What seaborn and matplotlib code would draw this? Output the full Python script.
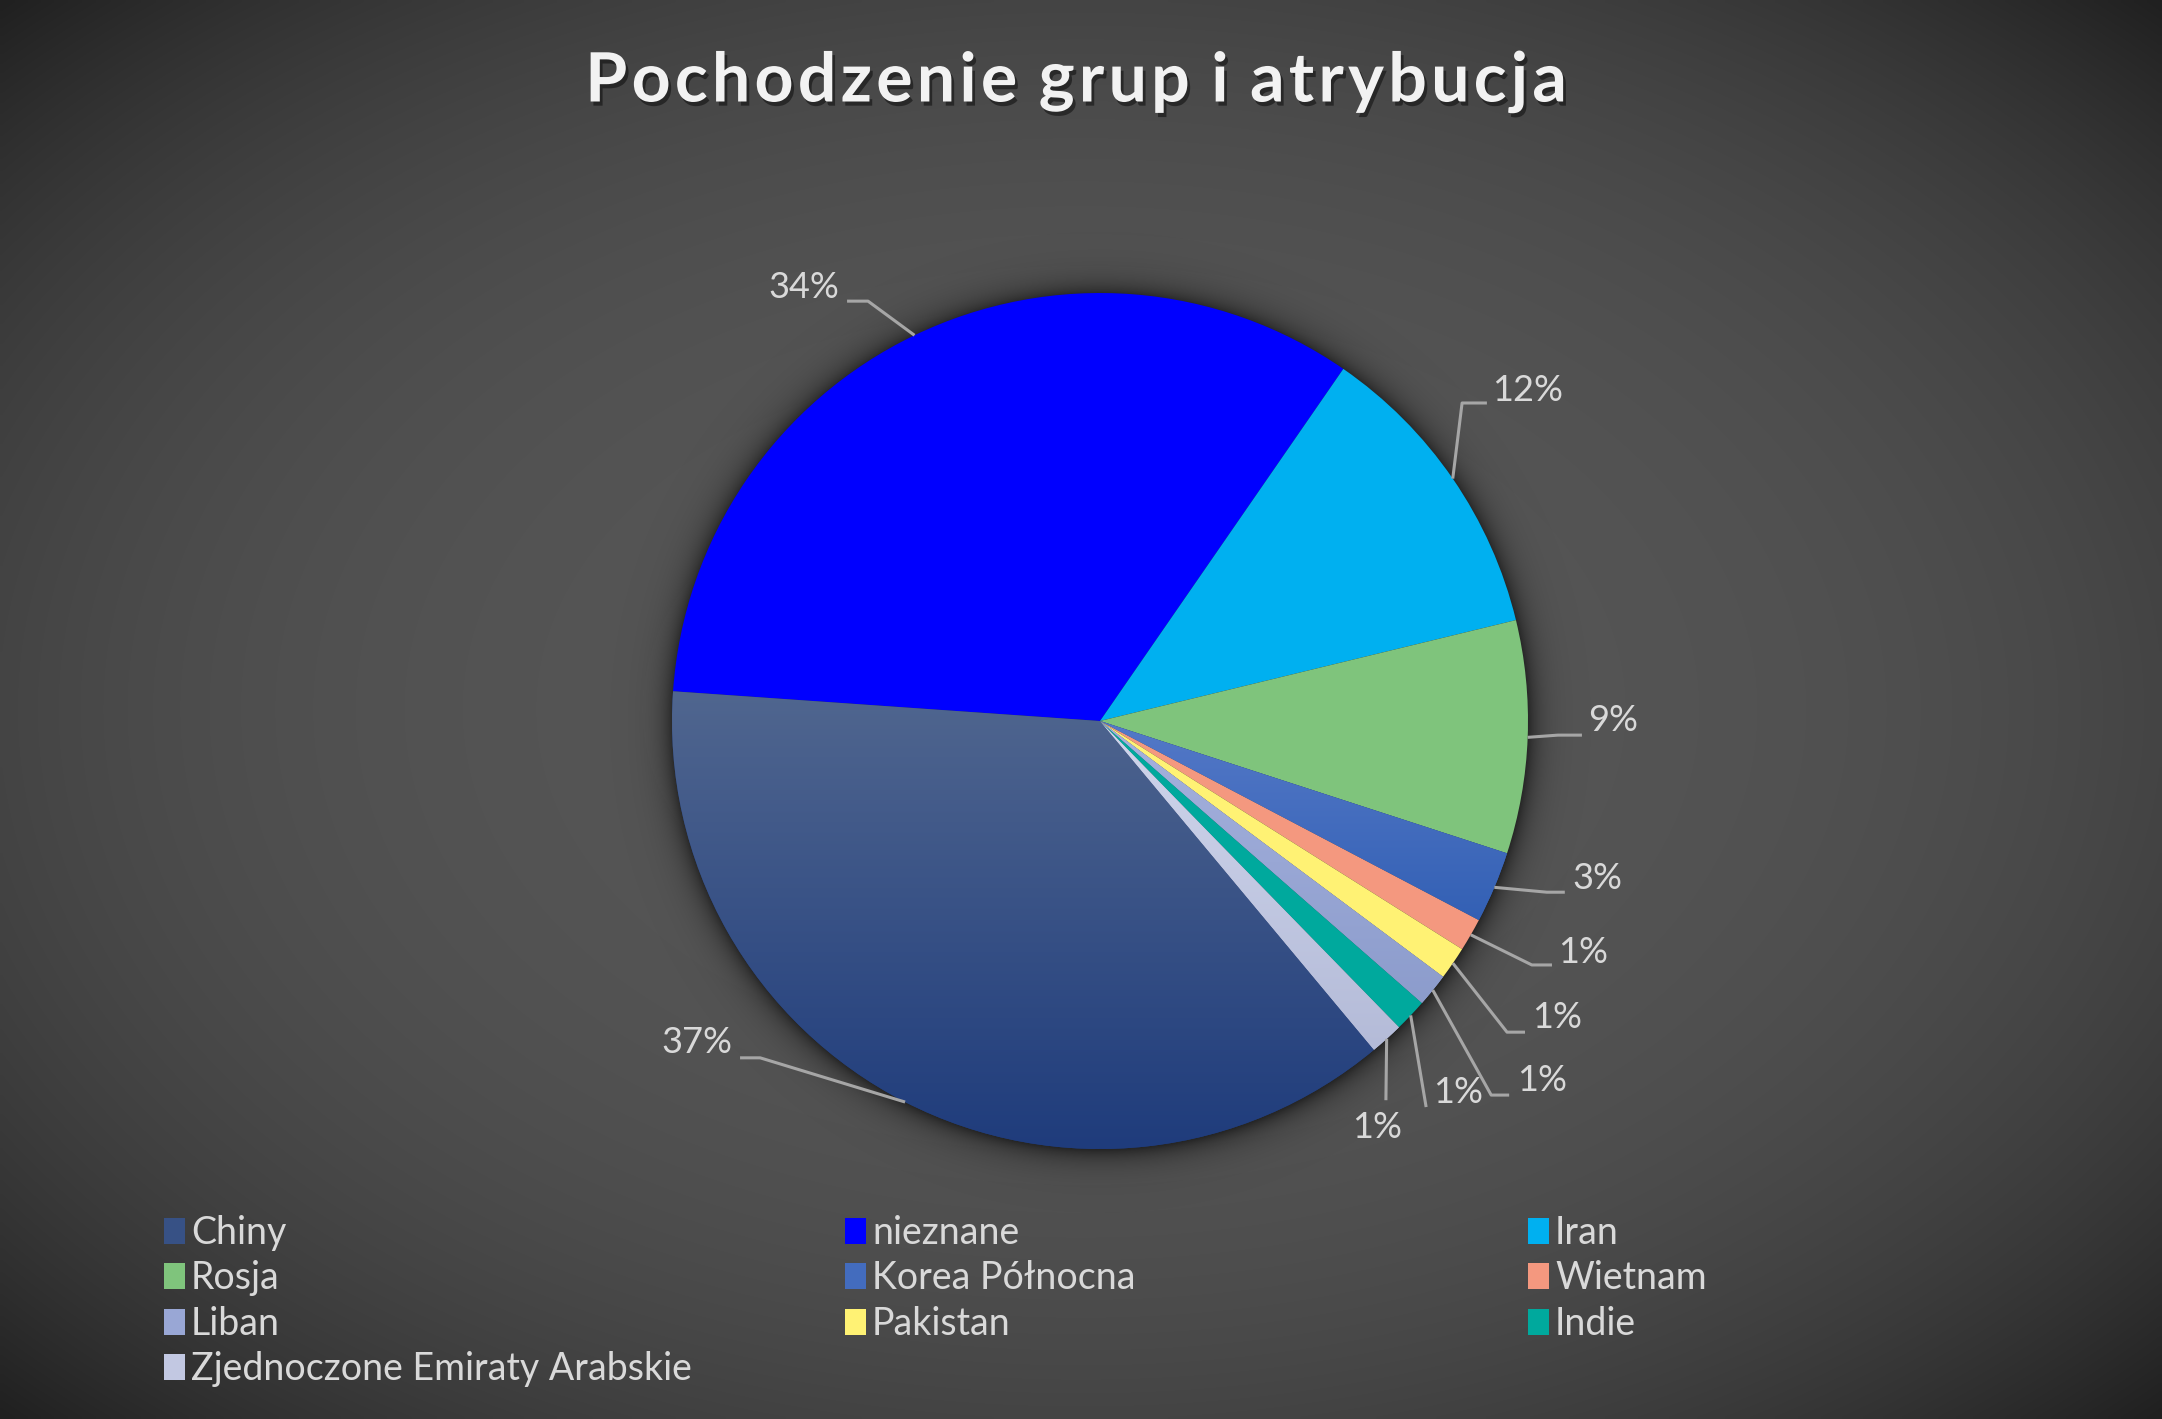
import numpy as np
import matplotlib
matplotlib.use('Agg')
import matplotlib.pyplot as plt
import matplotlib.patheffects as pe
from matplotlib.patches import Patch
import seaborn as sns

# slices in the order they run round the pie (clockwise, starting with Chiny)
countries = ['Chiny', 'nieznane', 'Iran', 'Rosja', 'Korea Północna', 'Wietnam',
             'Pakistan', 'Liban', 'Indie', 'Zjednoczone Emiraty Arabskie']
shares = [37.2, 33.55, 11.6, 8.8, 2.7, 1.25, 1.25, 1.25, 1.25, 1.25]
legend_order = ['Chiny', 'nieznane', 'Iran', 'Rosja', 'Korea Północna', 'Wietnam',
                'Liban', 'Pakistan', 'Indie', 'Zjednoczone Emiraty Arabskie']
title = 'Pochodzenie grup i atrybucja'

# (top, bottom) colour of each slice's vertical gradient
fills = {
    'Chiny': ('#50668f', '#1f3c7c'),
    'nieznane': ('#0000ff', '#0000ff'),
    'Iran': ('#00b0f0', '#00b0f0'),
    'Rosja': ('#7fc47c', '#7fc47c'),
    'Korea Północna': ('#5479c8', '#3360b4'),
    'Wietnam': ('#f4987f', '#f4987f'),
    'Pakistan': ('#fff274', '#fff274'),
    'Liban': ('#a6b2de', '#8c9ccc'),
    'Indie': ('#00a99d', '#00a99d'),
    'Zjednoczone Emiraty Arabskie': ('#d0d6ec', '#b4bbd8'),
}

# label layout in pie units (radius 1): text centre, elbow, end of the flat stub
label_pos = {
    'Chiny': ((-0.942, -0.752), (-0.794, -0.787), (-0.841, -0.787)),
    'nieznane': ((-0.692, 1.014), (-0.542, 0.981), (-0.591, 0.981)),
    'Iran': ((0.998, 0.773), (0.846, 0.743), (0.904, 0.743)),
    'Rosja': ((1.199, 0.002), (1.070, -0.033), (1.126, -0.033)),
    'Korea Północna': ((1.161, -0.367), (1.044, -0.400), (1.086, -0.400)),
    'Wietnam': ((1.129, -0.540), (1.009, -0.570), (1.056, -0.570)),
    'Pakistan': ((1.068, -0.692), (0.951, -0.727), (0.993, -0.727)),
    'Liban': ((1.033, -0.839), (0.914, -0.874), (0.956, -0.874)),
    'Indie': ((0.836, -0.867), (0.762, -0.902), (0.762, -0.902)),
    'Zjednoczone Emiraty Arabskie': ((0.647, -0.949), (0.668, -0.886), (0.668, -0.886)),
}

sns.set_theme(style='dark')
plt.rcParams['font.family'] = ['Lato', 'DejaVu Sans']

W, H = 2162, 1419
fig = plt.figure(figsize=(W / 100, H / 100), dpi=100)

# radial background gradient
bg = fig.add_axes([0, 0, 1, 1], zorder=0)
yy, xx = np.mgrid[0:1:300j, 0:1:460j]
d = np.sqrt(((xx - 0.5) / 0.5) ** 2 + ((yy - 0.5) / 0.5) ** 2) / np.sqrt(2)
grey = (86 - 54 * d ** 3.2) / 255.0
bg.imshow(np.dstack([grey, grey, grey]), extent=[0, 1, 0, 1], aspect='auto',
          interpolation='bilinear')
bg.axis('off')

ax = fig.add_axes([0, 0, 1, 1], zorder=1)
ax.patch.set_alpha(0)

cx, cy, R = 1100, 721, 428.0
xlim = (-cx / R, (W - cx) / R)
ylim = (-(H - cy) / R, cy / R)

# soft shadow round the pie
sy, sx = np.mgrid[-1.3:1.3:520j, -1.3:1.3:520j]
r = np.hypot(sx, sy + 0.004)
alpha = np.where(r > 1, 0.55 * np.exp(-(r - 1) / 0.03), 0.55)
shadow = np.zeros(r.shape + (4,))
shadow[..., 3] = alpha
ax.imshow(shadow, extent=[-1.3, 1.3, -1.3, 1.3], origin='lower', zorder=1,
          interpolation='bilinear')

colors = [fills[c][1] for c in countries]
wedges, _ = ax.pie(shares, colors=colors, startangle=-50.2, counterclock=False,
                   radius=1, wedgeprops=dict(linewidth=0, zorder=2))

grad = np.linspace(0, 1, 256).reshape(-1, 1)
for w, c in zip(wedges, countries):
    top, bottom = fills[c]
    if top == bottom:
        continue
    cmap = sns.blend_palette([top, bottom], as_cmap=True)
    ext = w.get_path().get_extents()
    im = ax.imshow(grad, cmap=cmap, extent=[ext.x0, ext.x1, ext.y0, ext.y1],
                   origin='upper', aspect='auto', zorder=3)
    im.set_clip_path(w)

total = sum(shares)
for w, c, v in zip(wedges, countries, shares):
    mid = np.deg2rad((w.theta1 + w.theta2) / 2)
    anchor = (np.cos(mid), np.sin(mid))
    txt, elbow, stub = label_pos[c]
    ax.plot([anchor[0], elbow[0], stub[0]], [anchor[1], elbow[1], stub[1]],
            color='#a6a6a6', lw=2.2, solid_capstyle='butt', zorder=4)
    ax.text(txt[0], txt[1], '{:.0f}%'.format(v / total * 100), ha='center',
            va='center', fontsize=26, color='#d9d9d9', zorder=5)

ax.set_xlim(*xlim)
ax.set_ylim(*ylim)
ax.set_aspect('auto')
ax.axis('off')

# title with extra letter spacing, one character at a time
renderer = fig.canvas.get_renderer()
tkw = dict(fontsize=49, fontweight='bold', color='#f2f2f2', va='center', ha='left',
           path_effects=[pe.withSimplePatchShadow(offset=(2, -3), shadow_rgbFace='black', alpha=0.45)])
spacing = 4.3
widths = []
for ch in title:
    t = fig.text(0, 0, ch if ch != ' ' else 'i', **tkw)
    widths.append(t.get_window_extent(renderer).width * (0.75 if ch == ' ' else 1.0))
    t.remove()
full = sum(widths) + spacing * (len(title) - 1)
x = 1076 - full / 2
for ch, wd in zip(title, widths):
    if ch != ' ':
        fig.text(x / W, 1 - 82 / H, ch, **tkw)
    x += wd + spacing

# legend, three columns filled row by row
legend_cols = [legend_order[0::3], legend_order[1::3], legend_order[2::3]]
col_x = [164 / W, 845 / W, 1528 / W]
for names, x in zip(legend_cols, col_x):
    handles = [Patch(facecolor=sns.blend_palette(fills[n], 3)[1], edgecolor='none', label=n)
               for n in names]
    fig.legend(handles=handles, loc='upper left', bbox_to_anchor=(x, 1 - 1215 / H),
               frameon=False, fontsize=27, labelcolor='#d9d9d9', borderpad=0,
               borderaxespad=0, handlelength=0.55, handleheight=0.7,
               handletextpad=0.17, labelspacing=0.25)

fig.savefig('out.png', dpi=100)
